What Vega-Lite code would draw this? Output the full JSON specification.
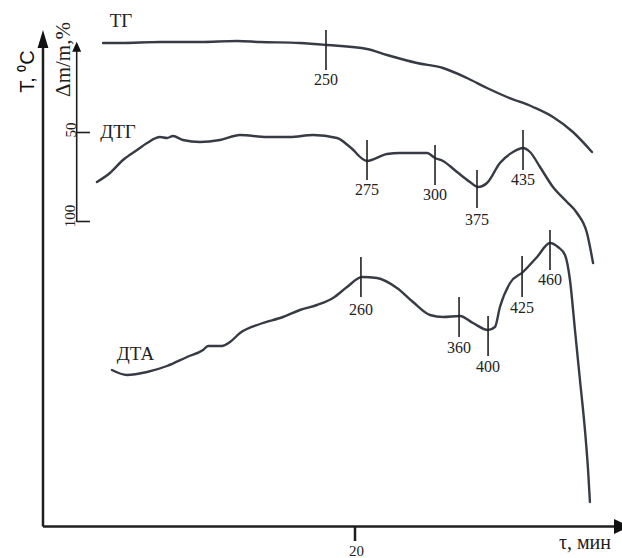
{
  "$schema": "https://vega.github.io/schema/vega-lite/v6.json",
  "width": 622,
  "height": 558,
  "autosize": {"type": "none"},
  "padding": 0,
  "background": "white",
  "config": {"view": {"stroke": null}},
  "datasets": {
    "curves": [
      {"c": "TG", "o": 1, "t": 3.85, "v": 96},
      {"c": "TG", "o": 2, "t": 4.94, "v": 96},
      {"c": "TG", "o": 3, "t": 7.5, "v": 96.2},
      {"c": "TG", "o": 4, "t": 10.06, "v": 96.2},
      {"c": "TG", "o": 5, "t": 12.44, "v": 96.4},
      {"c": "TG", "o": 6, "t": 13.91, "v": 96.2},
      {"c": "TG", "o": 7, "t": 16.47, "v": 96},
      {"c": "TG", "o": 8, "t": 18.21, "v": 95.6},
      {"c": "TG", "o": 9, "t": 20.77, "v": 94.8},
      {"c": "TG", "o": 10, "t": 22.05, "v": 93.6},
      {"c": "TG", "o": 11, "t": 23.97, "v": 92},
      {"c": "TG", "o": 12, "t": 25.64, "v": 91},
      {"c": "TG", "o": 13, "t": 27.18, "v": 89},
      {"c": "TG", "o": 14, "t": 28.46, "v": 87},
      {"c": "TG", "o": 15, "t": 29.74, "v": 85.2},
      {"c": "TG", "o": 16, "t": 31.41, "v": 83.2},
      {"c": "TG", "o": 17, "t": 32.69, "v": 81.2},
      {"c": "TG", "o": 18, "t": 33.97, "v": 78.2},
      {"c": "TG", "o": 19, "t": 35.19, "v": 74.2},
      {"c": "DTG", "o": 1, "t": 3.46, "v": 68.2},
      {"c": "DTG", "o": 2, "t": 4.29, "v": 70},
      {"c": "DTG", "o": 3, "t": 5.13, "v": 72.6},
      {"c": "DTG", "o": 4, "t": 6.03, "v": 74.6},
      {"c": "DTG", "o": 5, "t": 6.67, "v": 76},
      {"c": "DTG", "o": 6, "t": 7.5, "v": 77.2},
      {"c": "DTG", "o": 7, "t": 7.95, "v": 77},
      {"c": "DTG", "o": 8, "t": 8.33, "v": 77.4},
      {"c": "DTG", "o": 9, "t": 8.97, "v": 76.6},
      {"c": "DTG", "o": 10, "t": 10.06, "v": 76.2},
      {"c": "DTG", "o": 11, "t": 11.35, "v": 76.6},
      {"c": "DTG", "o": 12, "t": 12.63, "v": 77.6},
      {"c": "DTG", "o": 13, "t": 14.36, "v": 77.2},
      {"c": "DTG", "o": 14, "t": 15.83, "v": 77.2},
      {"c": "DTG", "o": 15, "t": 17.31, "v": 77.6},
      {"c": "DTG", "o": 16, "t": 18.85, "v": 77},
      {"c": "DTG", "o": 17, "t": 19.68, "v": 75.2},
      {"c": "DTG", "o": 18, "t": 20.77, "v": 72.4},
      {"c": "DTG", "o": 19, "t": 22.05, "v": 73.8},
      {"c": "DTG", "o": 20, "t": 22.88, "v": 74},
      {"c": "DTG", "o": 21, "t": 24.62, "v": 74},
      {"c": "DTG", "o": 22, "t": 25.13, "v": 73},
      {"c": "DTG", "o": 23, "t": 25.64, "v": 72.4},
      {"c": "DTG", "o": 24, "t": 26.54, "v": 70.2},
      {"c": "DTG", "o": 25, "t": 27.37, "v": 68.2},
      {"c": "DTG", "o": 26, "t": 27.88, "v": 67.2},
      {"c": "DTG", "o": 27, "t": 28.46, "v": 68},
      {"c": "DTG", "o": 28, "t": 29.29, "v": 72},
      {"c": "DTG", "o": 29, "t": 30.13, "v": 74.2},
      {"c": "DTG", "o": 30, "t": 30.77, "v": 75},
      {"c": "DTG", "o": 31, "t": 31.22, "v": 74.2},
      {"c": "DTG", "o": 32, "t": 31.86, "v": 71.2},
      {"c": "DTG", "o": 33, "t": 32.69, "v": 67.2},
      {"c": "DTG", "o": 34, "t": 33.59, "v": 64.2},
      {"c": "DTG", "o": 35, "t": 34.23, "v": 62},
      {"c": "DTG", "o": 36, "t": 34.87, "v": 58},
      {"c": "DTG", "o": 37, "t": 35.26, "v": 52},
      {"c": "DTA", "o": 1, "t": 4.42, "v": 30.6},
      {"c": "DTA", "o": 2, "t": 5.38, "v": 29.6},
      {"c": "DTA", "o": 3, "t": 6.67, "v": 30.2},
      {"c": "DTA", "o": 4, "t": 7.95, "v": 31.4},
      {"c": "DTA", "o": 5, "t": 9.23, "v": 33.2},
      {"c": "DTA", "o": 6, "t": 10.26, "v": 34.6},
      {"c": "DTA", "o": 7, "t": 10.58, "v": 35.4},
      {"c": "DTA", "o": 8, "t": 11.47, "v": 35.4},
      {"c": "DTA", "o": 9, "t": 11.99, "v": 36.2},
      {"c": "DTA", "o": 10, "t": 12.63, "v": 38},
      {"c": "DTA", "o": 11, "t": 13.91, "v": 39.8},
      {"c": "DTA", "o": 12, "t": 15.38, "v": 41.2},
      {"c": "DTA", "o": 13, "t": 16.47, "v": 42.6},
      {"c": "DTA", "o": 14, "t": 17.56, "v": 43.6},
      {"c": "DTA", "o": 15, "t": 18.59, "v": 45},
      {"c": "DTA", "o": 16, "t": 19.49, "v": 47.2},
      {"c": "DTA", "o": 17, "t": 20.45, "v": 49.2},
      {"c": "DTA", "o": 18, "t": 21.41, "v": 49},
      {"c": "DTA", "o": 19, "t": 22.69, "v": 47},
      {"c": "DTA", "o": 20, "t": 23.72, "v": 44.2},
      {"c": "DTA", "o": 21, "t": 24.81, "v": 41.6},
      {"c": "DTA", "o": 22, "t": 25.64, "v": 41.2},
      {"c": "DTA", "o": 23, "t": 26.73, "v": 41.4},
      {"c": "DTA", "o": 24, "t": 27.56, "v": 40},
      {"c": "DTA", "o": 25, "t": 28.53, "v": 38.6},
      {"c": "DTA", "o": 26, "t": 28.97, "v": 39.2},
      {"c": "DTA", "o": 27, "t": 29.29, "v": 43.2},
      {"c": "DTA", "o": 28, "t": 29.94, "v": 48},
      {"c": "DTA", "o": 29, "t": 30.77, "v": 50.2},
      {"c": "DTA", "o": 30, "t": 31.67, "v": 53.2},
      {"c": "DTA", "o": 31, "t": 32.5, "v": 56},
      {"c": "DTA", "o": 32, "t": 33.01, "v": 55.2},
      {"c": "DTA", "o": 33, "t": 33.46, "v": 53.6},
      {"c": "DTA", "o": 34, "t": 33.78, "v": 48.6},
      {"c": "DTA", "o": 35, "t": 34.1, "v": 38.6},
      {"c": "DTA", "o": 36, "t": 34.42, "v": 28.6},
      {"c": "DTA", "o": 37, "t": 34.74, "v": 18.6},
      {"c": "DTA", "o": 38, "t": 34.94, "v": 10.6},
      {"c": "DTA", "o": 39, "t": 35.06, "v": 4.2}
    ],
    "peaks": [
      {"t": 18.14, "v1": 98.6, "v2": 90.6, "lbl": "250", "vl": 88.6},
      {"t": 20.77, "v1": 76.6, "v2": 68.6, "lbl": "275", "vl": 66.6},
      {"t": 25.13, "v1": 75.6, "v2": 67.6, "lbl": "300", "vl": 65.6},
      {"t": 27.82, "v1": 70.6, "v2": 63, "lbl": "375", "vl": 60.6},
      {"t": 30.77, "v1": 78.6, "v2": 70.6, "lbl": "435", "vl": 68.6},
      {"t": 20.38, "v1": 53.2, "v2": 45.2, "lbl": "260", "vl": 42.6},
      {"t": 26.67, "v1": 45.2, "v2": 37.2, "lbl": "360", "vl": 35},
      {"t": 28.53, "v1": 41.4, "v2": 33.4, "lbl": "400", "vl": 31.2},
      {"t": 30.71, "v1": 53.4, "v2": 45.2, "lbl": "425", "vl": 43},
      {"t": 32.5, "v1": 58.6, "v2": 50.6, "lbl": "460", "vl": 48.6}
    ],
    "mainAxes": [
      {"x1": 0, "y1": -0.7, "x2": 0, "y2": 95},
      {"x1": 0, "y1": -0.7, "x2": 36.7, "y2": -0.7},
      {"x1": 20, "y1": -0.7, "x2": 20, "y2": -3.6}
    ],
    "massAxis": [
      {"x1": 2.16, "y1": 60.2, "x2": 2.16, "y2": 94.6},
      {"x1": 2.16, "y1": 78.1, "x2": 3.01, "y2": 78.1},
      {"x1": 2.16, "y1": 60.3, "x2": 3.01, "y2": 60.3}
    ],
    "curveNames": [
      {"t": 5.0, "v": 100.4, "name": "ТГ"},
      {"t": 4.81, "v": 78.2, "name": "ДТГ"},
      {"t": 5.93, "v": 33.9, "name": "ДТА"}
    ],
    "massTicks": [
      {"t": 1.79, "v": 78.6, "lbl": "50"},
      {"t": 1.73, "v": 61.4, "lbl": "100"}
    ]
  },
  "encoding": {
    "x": {"type": "quantitative", "scale": {"domain": [-2.756, 37.115], "nice": false, "zero": false}, "axis": null},
    "y": {"type": "quantitative", "scale": {"domain": [-7, 104.6], "nice": false, "zero": false}, "axis": null}
  },
  "layer": [
    {
      "data": {"name": "mainAxes"},
      "mark": {"type": "rule", "color": "#1e1e1e", "strokeWidth": 2.5},
      "encoding": {
        "x": {"field": "x1", "type": "quantitative"},
        "y": {"field": "y1", "type": "quantitative"},
        "x2": {"field": "x2"},
        "y2": {"field": "y2"}
      }
    },
    {
      "data": {"name": "massAxis"},
      "mark": {"type": "rule", "color": "#1e1e1e", "strokeWidth": 1.6},
      "encoding": {
        "x": {"field": "x1", "type": "quantitative"},
        "y": {"field": "y1", "type": "quantitative"},
        "x2": {"field": "x2"},
        "y2": {"field": "y2"}
      }
    },
    {
      "data": {"values": [{"t": 0, "v": 96.8}]},
      "mark": {"type": "point", "shape": "M0,-1L0.6,1L-0.6,1Z", "size": 324, "filled": true, "color": "#111", "opacity": 1},
      "encoding": {"x": {"field": "t", "type": "quantitative"}, "y": {"field": "v", "type": "quantitative"}}
    },
    {
      "data": {"values": [{"t": 2.16, "v": 95.26}]},
      "mark": {"type": "point", "shape": "M0,-1L0.9,1L-0.9,1Z", "size": 100, "filled": true, "color": "#111", "opacity": 1},
      "encoding": {"x": {"field": "t", "type": "quantitative"}, "y": {"field": "v", "type": "quantitative"}}
    },
    {
      "data": {"values": [{"t": 37.115, "v": -0.7}]},
      "mark": {"type": "point", "shape": "M1,0L-1,-0.94L-1,0.94Z", "size": 256, "filled": true, "color": "#111", "opacity": 1},
      "encoding": {"x": {"field": "t", "type": "quantitative"}, "y": {"field": "v", "type": "quantitative"}}
    },
    {
      "data": {"name": "curves"},
      "mark": {"type": "line", "interpolate": "monotone", "color": "#363b44", "strokeWidth": 2.4, "strokeCap": "round", "strokeJoin": "round"},
      "encoding": {
        "x": {"field": "t", "type": "quantitative"},
        "y": {"field": "v", "type": "quantitative"},
        "detail": {"field": "c"},
        "order": {"field": "o", "type": "quantitative"}
      }
    },
    {
      "data": {"name": "peaks"},
      "mark": {"type": "rule", "color": "#222", "strokeWidth": 1.6},
      "encoding": {
        "x": {"field": "t", "type": "quantitative"},
        "y": {"field": "v1", "type": "quantitative"},
        "y2": {"field": "v2"}
      }
    },
    {
      "data": {"name": "peaks"},
      "mark": {"type": "text", "font": "Liberation Serif", "fontSize": 16, "color": "#222", "baseline": "middle", "align": "center"},
      "encoding": {
        "x": {"field": "t", "type": "quantitative"},
        "y": {"field": "vl", "type": "quantitative"},
        "text": {"field": "lbl"}
      }
    },
    {
      "data": {"name": "curveNames"},
      "mark": {"type": "text", "font": "Liberation Serif", "fontSize": 19, "color": "#222", "baseline": "middle", "align": "center"},
      "encoding": {
        "x": {"field": "t", "type": "quantitative"},
        "y": {"field": "v", "type": "quantitative"},
        "text": {"field": "name"}
      }
    },
    {
      "data": {"name": "massTicks"},
      "mark": {"type": "text", "font": "Liberation Serif", "fontSize": 15, "color": "#222", "baseline": "middle", "align": "center", "angle": 270},
      "encoding": {
        "x": {"field": "t", "type": "quantitative"},
        "y": {"field": "v", "type": "quantitative"},
        "text": {"field": "lbl"}
      }
    },
    {
      "data": {"values": [{"t": 1.35, "v": 92.7, "lbl": "Δm/m,%"}]},
      "mark": {"type": "text", "font": "Liberation Serif", "fontSize": 21, "color": "#222", "baseline": "middle", "align": "center", "angle": 270},
      "encoding": {
        "x": {"field": "t", "type": "quantitative"},
        "y": {"field": "v", "type": "quantitative"},
        "text": {"field": "lbl"}
      }
    },
    {
      "data": {"values": [{"t": -0.96, "v": 90.3, "lbl": "T, ⁰C"}]},
      "mark": {"type": "text", "font": "Liberation Sans", "fontSize": 20, "color": "#111", "baseline": "middle", "align": "center", "angle": 270},
      "encoding": {
        "x": {"field": "t", "type": "quantitative"},
        "y": {"field": "v", "type": "quantitative"},
        "text": {"field": "lbl"}
      }
    },
    {
      "data": {"values": [{"t": 20.1, "v": -5.5, "lbl": "20"}]},
      "mark": {"type": "text", "font": "Liberation Serif", "fontSize": 15, "color": "#222", "baseline": "middle", "align": "center"},
      "encoding": {
        "x": {"field": "t", "type": "quantitative"},
        "y": {"field": "v", "type": "quantitative"},
        "text": {"field": "lbl"}
      }
    },
    {
      "data": {"values": [{"t": 34.74, "v": -3.9, "lbl": "τ, мин"}]},
      "mark": {"type": "text", "font": "Liberation Serif", "fontSize": 20, "color": "#222", "baseline": "middle", "align": "center"},
      "encoding": {
        "x": {"field": "t", "type": "quantitative"},
        "y": {"field": "v", "type": "quantitative"},
        "text": {"field": "lbl"}
      }
    }
  ]
}
